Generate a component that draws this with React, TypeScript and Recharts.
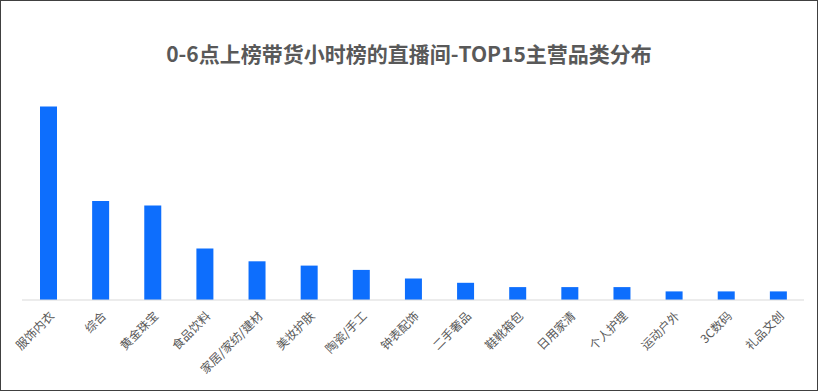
import { BarChart, Bar, XAxis, YAxis } from "recharts";

const categories = [
  "服饰内衣",
  "综合",
  "黄金珠宝",
  "食品饮料",
  "家居/家纺/建材",
  "美妆护肤",
  "陶瓷/手工",
  "钟表配饰",
  "二手奢品",
  "鞋靴箱包",
  "日用家清",
  "个人护理",
  "运动户外",
  "3C数码",
  "礼品文创",
];
const counts = [45, 23, 22, 12, 9, 8, 7, 5, 4, 3, 3, 3, 2, 2, 2];

const data = categories.map((name, i) => ({ name, value: counts[i] }));

const FONT = '"Microsoft YaHei", "Noto Sans CJK SC", sans-serif';

const AngledTick = (props: any) => {
  const { x, y, payload } = props;
  return (
    <g transform={`translate(${x + 4},${y + 6})`}>
      <text
        x={0}
        y={0}
        dy={4}
        textAnchor="end"
        transform="rotate(-45)"
        fill="#595959"
        fontSize={12}
        fontFamily={FONT}
      >
        {payload.value}
      </text>
    </g>
  );
};

export default function App() {
  return (
    <div style={{ position: "absolute", left: 0, top: 0, width: 818, height: 391, background: "#fff" }}>
      <div
        style={{
          position: "absolute",
          left: 0,
          top: 38,
          width: 818,
          textAlign: "center",
          fontFamily: FONT,
          fontWeight: "bold",
          fontSize: 21,
          color: "#595959",
          lineHeight: "30px",
        }}
      >
        0-6点上榜带货小时榜的直播间-TOP15主营品类分布
      </div>
      <div style={{ position: "absolute", left: 0, top: 0 }}>
        <BarChart
          width={818}
          height={391}
          data={data}
          margin={{ top: 85, right: 14, bottom: 0, left: 22 }}
        >
          <XAxis
            dataKey="name"
            interval={0}
            height={91}
            tickLine={false}
            axisLine={{ stroke: "#d9d9d9" }}
            tick={<AngledTick />}
          />
          <YAxis hide domain={[0, 50]} />
          <Bar dataKey="value" fill="#0d6efd" barSize={17} isAnimationActive={false} />
        </BarChart>
      </div>
      <div
        style={{
          position: "absolute",
          left: 0,
          top: 0,
          width: 818,
          height: 391,
          boxSizing: "border-box",
          border: "1px solid #404040",
          pointerEvents: "none",
        }}
      />
    </div>
  );
}
